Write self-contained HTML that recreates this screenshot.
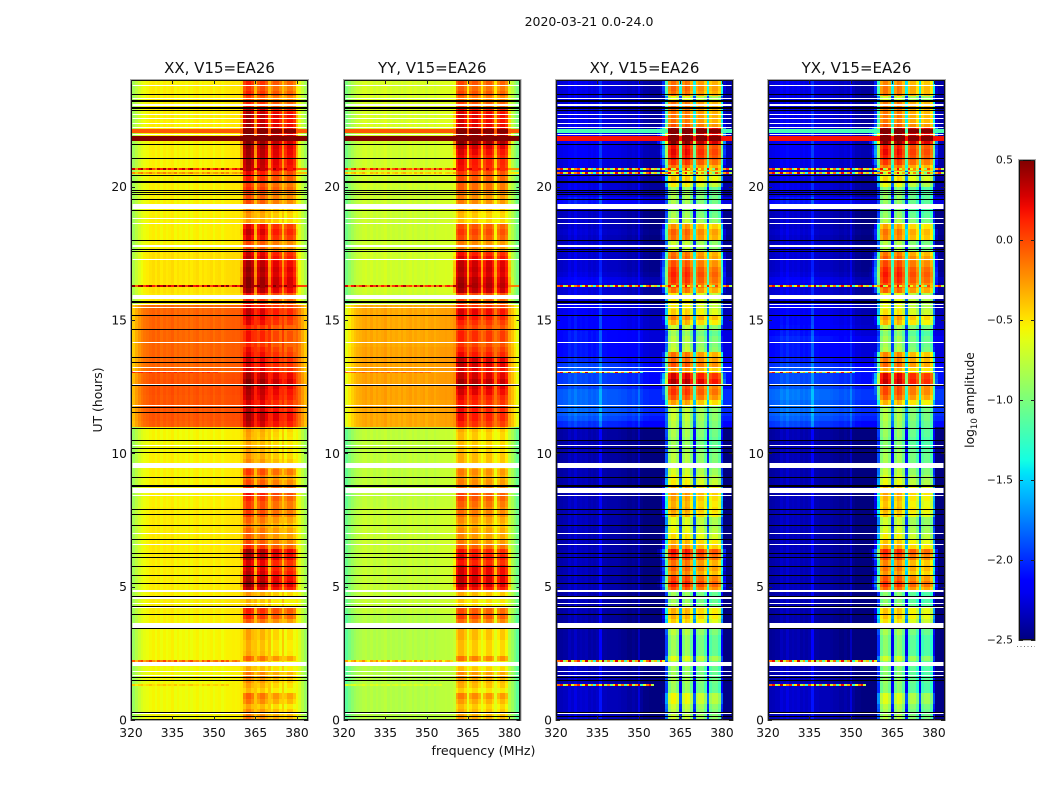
<!DOCTYPE html>
<html lang="en">
<head>
<meta charset="utf-8">
<title>2020-03-21 0.0-24.0</title>
<style>
html,body{margin:0;padding:0;background:#fff;width:1050px;height:800px;overflow:hidden}
svg{display:block}
text{font-family:"DejaVu Sans","Liberation Sans",sans-serif;fill:#111}
</style>
</head>
<body>
<svg id="chart" width="1050" height="800" viewBox="0 0 1050 800" xmlns="http://www.w3.org/2000/svg">
  <defs>
    <linearGradient id="jetGradient" x1="0" y1="1" x2="0" y2="0"></linearGradient>
  </defs>
  <rect width="1050" height="800" fill="#fff"></rect>
  <text x="589" y="26" font-size="12.5" text-anchor="middle">2020-03-21 0.0-24.0</text>
  <text x="483.5" y="755" font-size="12.6" text-anchor="middle">frequency (MHz)</text>
  <text transform="translate(102,400) rotate(-90)" font-size="12.4" text-anchor="middle">UT (hours)</text>
  <text transform="translate(974,400) rotate(-90)" font-size="12.3" text-anchor="middle">log<tspan font-size="8.5" dy="3">10</tspan><tspan dy="-3"> amplitude</tspan></text>
  <g id="panels"></g>
  <g id="colorbar"></g>
</svg>
<script>
// ---------- Axis data ----------
const panelTitles = ["XX, V15=EA26", "YY, V15=EA26", "XY, V15=EA26", "YX, V15=EA26"];
const xTicks = [320, 335, 350, 365, 380];
const yTicks = [0, 5, 10, 15, 20];
const colorbarTicks = [0.5, 0.0, -0.5, -1.0, -1.5, -2.0, -2.5];
const colorbarLabels = ["0.5", "0.0", "\u22120.5", "\u22121.0", "\u22121.5", "\u22122.0", "\u22122.5"];

// ---------- Heatmap categories: channel centres (MHz), time bins (UT start, 0.2 h wide) ----------
const channelsMHz = [320,321,322,323,324,325,326,327,328,329,330,331,332,333,334,335,336,337,338,339,
340,341,342,343,344,345,346,347,348,349,350,351,352,353,354,355,356,357,358,359,
360,361,362,363,364,365,366,367,368,369,370,371,372,373,374,375,376,377,378,379,
380,381,382,383];
const subbandOfChannel = [-1,-1,-1,-1,-1,-1,-1,-1,-1,-1,-1,-1,-1,-1,-1,-1,-1,-1,-1,-1,
-1,-1,-1,-1,-1,-1,-1,-1,-1,-1,-1,-1,-1,-1,-1,-1,-1,-1,-1,-1,
-1,0,0,0,0,-1,1,1,1,1,-1,2,2,2,2,-1,3,3,3,3,
-1,-1,-1,-1];

// ---------- Low-band (quiet channels) log10 amplitude per time bin ----------
const xxLow = [-.6,-.6,-.6,-.6,-.6,-.6,-.6,-.6,-.6,-.6,
-.59,-.59,-.59,-.59,-.59,-.59,-.59,-.59,-.57,-.57,
-.56,-.56,-.56,-.56,-.56,-.56,-.56,-.56,-.56,-.56,
-.55,-.55,-.55,-.55,-.55,-.55,-.55,-.55,-.55,-.55,
-.57,-.57,-.57,-.57,-.57,-.57,-.57,-.57,-.57,-.57,
-.59,-.59,-.59,-.59,-.59,-.09,-.07,-.07,-.07,-.07,
-.07,-.06,-.06,-.06,-.07,-.12,-.12,-.12,-.12,-.12,
-.12,-.12,-.12,-.12,-.12,-.12,-.12,-.12,-.54,-.54,
-.52,-.52,-.52,-.52,-.52,-.52,-.52,-.52,-.57,-.57,
-.57,-.57,-.57,-.57,-.57,-.57,-.57,-.57,-.57,-.57,
-.57,-.57,-.57,-.57,-.57,-.57,-.57,-.57,-.57,-.57,
-.56,-.56,-.56,-.56,-.56,-.56,-.56,-.56,-.56,-.56];
const yyLow = [-.82,-.82,-.82,-.82,-.82,-.82,-.82,-.82,-.82,-.82,
-.82,-.82,-.82,-.82,-.82,-.82,-.82,-.82,-.82,-.82,
-.76,-.76,-.76,-.76,-.76,-.76,-.76,-.76,-.76,-.76,
-.75,-.75,-.75,-.75,-.75,-.75,-.75,-.75,-.75,-.75,
-.78,-.78,-.78,-.78,-.78,-.78,-.78,-.78,-.78,-.78,
-.78,-.78,-.78,-.78,-.78,-.33,-.33,-.33,-.33,-.33,
-.31,-.31,-.31,-.31,-.31,-.31,-.31,-.31,-.31,-.31,
-.33,-.33,-.33,-.33,-.33,-.33,-.33,-.33,-.74,-.74,
-.72,-.72,-.72,-.72,-.72,-.72,-.72,-.72,-.74,-.74,
-.74,-.74,-.74,-.74,-.74,-.74,-.74,-.74,-.74,-.74,
-.72,-.72,-.72,-.72,-.72,-.72,-.72,-.72,-.72,-.72,
-.7,-.7,-.7,-.7,-.7,-.7,-.7,-.7,-.7,-.7];
const xyLow = [-2.38,-2.38,-2.38,-2.38,-2.38,-2.38,-2.38,-2.42,-2.42,-2.42,
-2.46,-2.46,-2.46,-2.46,-2.46,-2.46,-2.46,-2.46,-2.46,-2.46,
-2.44,-2.44,-2.44,-2.44,-2.42,-2.42,-2.42,-2.42,-2.42,-2.42,
-2.42,-2.42,-2.42,-2.42,-2.42,-2.42,-2.42,-2.42,-2.42,-2.42,
-2.42,-2.42,-2.44,-2.44,-2.44,-2.44,-2.44,-2.44,-2.44,-2.44,
-2.44,-2.44,-2.44,-2.44,-2.44,-2.05,-1.95,-1.9,-1.9,-1.9,
-1.9,-1.9,-2.0,-2.0,-2.0,-1.95,-2.0,-2.1,-2.15,-2.15,
-2.15,-2.15,-2.15,-2.2,-2.2,-2.2,-2.25,-2.25,-2.32,-2.32,
-2.32,-2.3,-2.25,-2.32,-2.35,-2.35,-2.35,-2.35,-2.35,-2.38,
-2.38,-2.35,-2.38,-2.38,-2.38,-2.38,-2.15,-2.15,-2.3,-2.3,
-2.3,-2.3,-2.3,-2.3,-2.3,-2.25,-2.25,-2.25,-2.25,-2.25,
-2.32,-2.3,-2.3,-2.3,-2.32,-2.32,-2.32,-2.3,-2.3,-2.3];
const yxLow = [-2.38,-2.38,-2.38,-2.38,-2.38,-2.38,-2.38,-2.42,-2.42,-2.42,
-2.46,-2.46,-2.46,-2.46,-2.46,-2.46,-2.46,-2.46,-2.46,-2.46,
-2.44,-2.44,-2.44,-2.44,-2.42,-2.42,-2.42,-2.42,-2.42,-2.42,
-2.42,-2.42,-2.42,-2.42,-2.42,-2.42,-2.42,-2.42,-2.42,-2.42,
-2.42,-2.42,-2.44,-2.44,-2.44,-2.44,-2.44,-2.44,-2.44,-2.44,
-2.44,-2.44,-2.44,-2.44,-2.44,-2.0,-1.92,-1.88,-1.88,-1.88,
-1.85,-1.85,-1.95,-1.98,-1.98,-1.95,-2.02,-2.12,-2.15,-2.15,
-2.15,-2.1,-2.15,-2.18,-2.2,-2.2,-2.25,-2.25,-2.32,-2.32,
-2.32,-2.3,-2.25,-2.32,-2.35,-2.35,-2.35,-2.35,-2.35,-2.38,
-2.38,-2.35,-2.38,-2.38,-2.38,-2.38,-2.15,-2.15,-2.3,-2.3,
-2.3,-2.3,-2.3,-2.3,-2.3,-2.25,-2.25,-2.25,-2.25,-2.25,
-2.32,-2.3,-2.3,-2.3,-2.32,-2.32,-2.32,-2.3,-2.3,-2.3];

// ---------- Active-band (360-380 MHz) log10 amplitude per time bin ----------
const xxHi = [-.15,-.2,-.3,-.15,-.08,-.35,-.28,-.2,-.15,-.32,
-.35,-.08,-.3,-.32,-.32,-.28,-.28,-.35,-.05,.12,
.15,-.35,-.35,-.25,.35,.45,.4,.35,.3,.28,
.4,.42,.12,.0,-.08,-.08,-.15,-.08,.05,.05,
.05,.12,.18,.1,.0,-.08,.05,-.08,-.2,-.25,
-.28,-.3,-.3,-.28,-.25,.35,.4,.4,.35,.28,
.35,.38,.42,.48,.42,.3,.28,.3,.25,.2,
.12,.18,.18,.12,.25,.28,.32,.25,.12,.18,
.42,.48,.48,.42,.45,.4,.35,.3,.0,.0,
.25,.32,.25,-.25,-.25,-.2,.0,.0,.0,.1,
.05,.15,.22,.38,.4,.4,.42,.45,.5,.5,
.42,.4,.38,.4,.32,.12,.0,.12,.05,.12];
const yyHi = [-.25,-.3,-.35,-.25,-.15,-.4,-.3,-.25,-.2,-.35,
-.4,-.12,-.35,-.35,-.35,-.3,-.3,-.4,-.08,.05,
.0,-.4,-.4,-.3,.25,.35,.35,.3,.3,.18,
.25,.2,-.02,-.15,-.2,-.2,-.25,-.2,-.1,-.1,
-.05,.02,.02,-.1,-.15,-.2,-.15,-.25,-.3,-.3,
-.35,-.35,-.35,-.35,-.3,.15,.22,.22,.22,.18,
.22,.3,.35,.42,.35,.28,.35,.35,.22,.15,
.08,.15,.15,.08,.15,.22,.28,.15,.02,.08,
.4,.45,.42,.35,.38,.35,.28,.2,-.15,-.15,
.02,.08,.02,-.35,-.35,-.3,-.15,-.15,-.15,-.05,
-.05,.02,.08,.2,.22,.22,.28,.35,.5,.5,
.35,.3,.28,.3,.22,.02,-.1,.02,-.05,.02];
const xyHi = [-.7,-.75,-.7,-.55,-.55,-.85,-.85,-.8,-.85,-.85,
-.8,-.6,-.85,-.85,-.85,-.85,-.75,-.7,-.4,-.3,
-.3,-.8,-.85,-.85,.0,.15,.05,-.15,-.05,-.1,
.1,.2,-.2,-.3,-.45,-.55,-.6,-.6,-.3,-.25,
-.3,-.25,-.2,-.3,-.5,-.55,-.65,-.7,-.75,-.75,
-.8,-.85,-.85,-.8,-.8,-.75,-.7,-.7,-.7,-.25,
.0,.1,.05,.4,.3,-.2,.0,-.05,-.1,-.7,
-.75,-.75,-.85,-.7,-.3,-.15,-.4,-.5,-.5,-.5,
-.1,.02,.1,.15,.1,.0,-.05,-.1,-.7,-.7,
-.1,-.05,-.2,-.7,-.8,-.85,-.8,-.8,-.8,-.85,
-.5,-.35,-.55,-.1,.1,.2,.25,.2,.5,.5,
.5,.0,-.1,-.1,-.1,-.1,-.6,-.1,-.05,-.1];
const yxHi = [-.75,-.8,-.75,-.6,-.6,-.9,-.9,-.85,-.9,-.9,
-.85,-.65,-.9,-.9,-.9,-.9,-.8,-.75,-.45,-.35,
-.35,-.85,-.9,-.9,-.05,.12,.0,-.2,-.1,-.15,
.05,.15,-.25,-.35,-.5,-.6,-.65,-.65,-.35,-.3,
-.35,-.3,-.25,-.35,-.55,-.6,-.7,-.75,-.8,-.8,
-.85,-.9,-.9,-.85,-.85,-.8,-.75,-.75,-.75,-.3,
-.05,.05,.05,.35,.3,-.25,-.05,-.1,-.15,-.75,
-.8,-.8,-.9,-.75,-.3,-.2,-.45,-.55,-.55,-.55,
-.05,.05,.15,.2,.15,.05,-.0,-.1,-.75,-.75,
-.15,-.1,-.25,-.75,-.85,-.9,-.85,-.85,-.85,-.9,
-.55,-.4,-.6,-.1,.1,.2,.25,.2,.5,.5,
.5,.0,-.1,-.1,-.1,-.1,-.65,-.1,-.1,-.15];

// ---------- Frequency response offsets per channel ----------
const parallelProfile = [-.4,-.3,-.2,-.12,-.06,-.02,.0,.03,.05,.01,
.05,.0,.04,.01,.03,.06,.0,.04,.01,.03,
.0,.04,.0,.03,.05,.0,.04,.01,.03,.05,
.0,.04,.05,.01,.04,.05,.05,.06,.05,.06,
.1,-.12,.0,.0,-.1,.2,-.1,.0,.0,-.12,
.2,-.12,.0,.0,-.12,.18,-.12,.0,.0,-.12,
.04,-.06,-.18,-.3];
const crossProfile = [.0,.02,.03,.05,.05,.12,.08,.15,.08,.1,
.08,.1,.05,.08,.05,.08,.3,.05,.05,.03,
.03,.03,.03,.02,.0,.0,-.03,-.03,.0,-.03,
.12,-.05,-.1,-.1,-.12,-.12,-.12,-.12,-.12,-.12,
-.05,-.15,.0,.0,-.15,.2,-.1,.05,.0,-.2,
.2,-.1,.0,.0,-.2,.2,-.1,.0,.0,-.15,
-.05,-.1,-.1,-.1];
const xxSubbandOffset = [.02,-.05,-.16,-.2];
const yySubbandOffset = [.0,-.05,-.08,-.1];
const xySubbandOffset = [.0,-.05,-.15,-.22];
const yxSubbandOffset = [-.02,-.06,-.2,-.25];

// ---------- Spectral leakage from the active band into neighbouring channels ----------
const leakChannels = [37,38,39,40,45,50,55,60,61];
const parallelLeak = [-1.6,-1.4,-1.15,-.75,-.65,-.65,-.65,-.75,-1.15];
const crossLeak = [-2.6,-2.3,-1.9,-1.1,-1.3,-1.3,-1.3,-1.3,-2.2];

// ---------- Flagged rows (UT hours, thickness in hours) ----------
const whiteRowsUT = [23.79,23.30,23.06,22.71,22.55,22.37,22.20,21.94,19.28,18.79,18.61,17.78,17.25,15.85,15.56,15.47,14.16,13.22,13.06,12.59,11.79,10.29,9.55,8.60,8.41,7.0,6.59,4.86,4.81,4.57,4.38,4.23,3.54,2.11,1.83,1.68,0.22];
const whiteRowsThick = [.05,.05,.09,.05,.05,.05,.05,.05,.17,.05,.05,.08,.05,.15,.05,.05,.05,.05,.05,.05,.05,.05,.19,.19,.05,.05,.05,.04,.04,.09,.05,.05,.19,.15,.05,.05,.05];
const blackRowsUT = [23.46,23.22,22.93,22.85,21.59,21.06,20.43,20.17,19.85,19.77,19.71,19.52,19.11,17.97,17.65,17.56,15.66,15.15,14.65,13.6,13.41,12.52,11.72,11.54,10.94,10.47,10.19,10.04,9.08,8.78,7.9,7.71,7.3,6.76,6.25,6.07,5.76,5.43,5.12,4.64,4.26,3.96,3.41,1.59,1.49,0.29,0.12];
const blackRowsThick = [.05,.08,.08,.05,.05,.05,.05,.08,.05,.05,.05,.05,.05,.05,.05,.05,.08,.05,.05,.05,.05,.05,.05,.05,.05,.05,.05,.05,.05,.08,.05,.05,.05,.05,.05,.05,.05,.05,.05,.05,.05,.05,.05,.05,.05,.05,.05];

// ---------- Strong interference rows ----------
const hotRowsUT = [21.81,22.09];
const hotRowsThick = [.18,.12];
const hotParallel = [.5,-.05];
const hotCross = [.18,-1.2];

// ---------- Speckled narrow rows ----------
const speckleRowsUT = [2.22,16.27,20.68,20.52,13.05,1.31];
const speckleChannelCount = [40,64,64,64,32,36];
const speckleParallelGain = [.6,1.1,1.0,.4,.25,.2];
const speckleParallel = [.6,.9,.4,.8,1,.5,.7,1,.6,.4,.9,.7,1,.5,.8,.6,1,.4,.7,.9,.5,.8,1,.6,.7,.4,.9,.6,1,.5,.7,.8,.5,1,.6,.9,.4,.7,.8,.6,1,.6,.9,.7,.4,.8,1,.5,.7,.9,.6,.4,1,.7,.8,.5,.9,.6,.7,.8,.5,.5,.5,.5];
const speckleCross = [-.6,-.1,.2,-.9,-.4,.3,-.7,-.2,.1,-1.2,-.5,.3,-.8,-.3,-1.3,.0,-.6,.35,-.9,-.2,-1.1,-.5,.25,-.7,-.1,-1.2,-.4,.2,-.9,-.3,.3,-1.3,-.6,-.1,.2,-.8,-.4,-1.1,.1,-.6,-.3,.2,-.9,-.5,.1,-1.2,-.4,.2,-.7,-.3,-1.1,.1,-.6,-.2,-.9,.2,-.5,-1.0,.0,-.4,-1.2,-.3,.1,-.8];

// ---------- Geometry (layout only) ----------
const panelLeft = [131, 344, 556, 768];
const panelRight = [308, 520.5, 733, 945];
const plotTop = 80, plotBottom = 720;
const cbLeft = 1019, cbRight = 1035, cbTop = 160, cbBottom = 640;
const rowHours = 0.2, freqMin = 320, freqMax = 384, utMax = 24, vMin = -2.5, vMax = 0.5;
const NS = "http://www.w3.org/2000/svg";

function jet(v) {
  const f = Math.max(0, Math.min(1, (v - vMin) / (vMax - vMin)));
  const seg = (pts) => {
    for (let i = 1; i < pts.length; i++) {
      if (f <= pts[i][0]) {
        const a = pts[i - 1], b = pts[i];
        return a[1] + (b[1] - a[1]) * (f - a[0]) / (b[0] - a[0]);
      }
    }
    return pts[pts.length - 1][1];
  };
  const r = seg([[0, 0], [.35, 0], [.66, 1], [.89, 1], [1, .5]]);
  const g = seg([[0, 0], [.125, 0], [.375, 1], [.64, 1], [.91, 0], [1, 0]]);
  const b = seg([[0, .5], [.11, 1], [.34, 1], [.65, 0], [1, 0]]);
  return "rgb(" + Math.round(r * 255) + "," + Math.round(g * 255) + "," + Math.round(b * 255) + ")";
}
function make(tag, attrs) {
  const el = document.createElementNS(NS, tag);
  for (const k in attrs) el.setAttribute(k, attrs[k]);
  return el;
}
const yScale = (ut) => plotBottom - (ut / utMax) * (plotBottom - plotTop);

const panelLow = [xxLow, yyLow, xyLow, yxLow];
const panelHi = [xxHi, yyHi, xyHi, yxHi];
const panelSub = [xxSubbandOffset, yySubbandOffset, xySubbandOffset, yxSubbandOffset];

function cellValue(p, row, ch) {
  const cross = p >= 2;
  const profile = cross ? crossProfile : parallelProfile;
  const low = panelLow[p][row], hi = panelHi[p][row];
  const band = subbandOfChannel[ch];
  if (band >= 0) return Math.max(hi + panelSub[p][band] + profile[ch], cross ? -1.35 : low);
  let v = low + profile[ch];
  const li = leakChannels.indexOf(ch);
  if (li >= 0) v = Math.max(v, hi + (cross ? crossLeak[li] : parallelLeak[li]));
  return v;
}

const panelsRoot = document.getElementById("panels");
panelTitles.forEach((title, p) => {
  const x0 = panelLeft[p], x1 = panelRight[p];
  const xScale = (f) => x0 + (f - freqMin) / (freqMax - freqMin) * (x1 - x0);
  const g = make("g", {});
  
  

  const bg = make("rect", { x: x0, y: plotTop, width: x1 - x0, height: plotBottom - plotTop, fill: "#000" });
  
  
  g.appendChild(bg);

  const left = xScale(320.5), right = xScale(383.5);
  const heat = make("g", { "shape-rendering": "crispEdges" });
  
  
  const frag = document.createDocumentFragment();
  const nRows = panelLow[p].length;
  for (let r = 0; r < nRows; r++) {
    const yb = Math.round(yScale(r * rowHours)), yt = Math.round(yScale((r + 1) * rowHours));
    for (let c = 0; c < channelsMHz.length; c++) {
      const xa = Math.round(Math.max(xScale(channelsMHz[c] - 0.5), left));
      const xb = Math.round(Math.min(xScale(channelsMHz[c] + 0.5), right));
      const cell = make("rect", { x: xa, y: yt, width: xb - xa, height: yb - yt, fill: jet(cellValue(p, r, c)) });
      
      
      frag.appendChild(cell);
    }
  }
  // strong interference rows
  hotRowsUT.forEach((ut, i) => {
    const ya = Math.round(yScale(ut + hotRowsThick[i] / 2)), yb = Math.round(yScale(ut - hotRowsThick[i] / 2));
    for (let c = 0; c < channelsMHz.length; c++) {
      const xa = Math.round(Math.max(xScale(channelsMHz[c] - 0.5), left));
      const xb = Math.round(Math.min(xScale(channelsMHz[c] + 0.5), right));
      const base = p >= 2 ? hotCross[i] : hotParallel[i];
      const v = subbandOfChannel[c] >= 0 ? 0.5 : base;
      const cell = make("rect", { x: xa, y: ya, width: xb - xa, height: Math.max(1, yb - ya), fill: jet(v) });
      
      
      frag.appendChild(cell);
    }
  });
  // speckled rows
  speckleRowsUT.forEach((ut, i) => {
    const ya = Math.round(yScale(ut + 0.03));
    const row = Math.floor(ut / rowHours);
    for (let c = 0; c < speckleChannelCount[i]; c++) {
      const xa = Math.round(Math.max(xScale(channelsMHz[c] - 0.5), left));
      const xb = Math.round(Math.min(xScale(channelsMHz[c] + 0.5), right));
      const v = p >= 2 ? speckleCross[c] : Math.max(cellValue(p, row, c), panelLow[p][row] + speckleParallelGain[i] * speckleParallel[c]);
      const cell = make("rect", { x: xa, y: ya, width: xb - xa, height: 2, fill: jet(v) });
      
      
      frag.appendChild(cell);
    }
  });
  // black flagged rows
  blackRowsUT.forEach((ut, i) => {
    const ya = Math.round(yScale(ut + blackRowsThick[i] / 2));
    const h = Math.max(1, Math.round(blackRowsThick[i] * (plotBottom - plotTop) / utMax));
    const line = make("rect", { x: x0, y: ya, width: x1 - x0, height: h, fill: "#000" });
    
    
    frag.appendChild(line);
  });
  // white blank rows
  whiteRowsUT.forEach((ut, i) => {
    const ya = Math.round(yScale(ut + whiteRowsThick[i] / 2));
    const h = Math.max(1, Math.round(whiteRowsThick[i] * (plotBottom - plotTop) / utMax));
    const line = make("rect", { x: left, y: ya, width: right - left, height: h, fill: "#fff" });
    
    
    frag.appendChild(line);
  });
  heat.appendChild(frag);
  g.appendChild(heat);

  const outer = make("rect", { x: x0 - 0.5, y: plotTop - 0.5, width: x1 - x0 + 1, height: plotBottom - plotTop + 1, fill: "none", stroke: "#aaa", "stroke-width": 1 });
  
  
  g.appendChild(outer);
  const frame = make("rect", { x: x0 + 0.5, y: plotTop + 0.5, width: x1 - x0 - 1, height: plotBottom - plotTop - 1, fill: "none", stroke: "#111", "stroke-width": 1 });
  
  
  g.appendChild(frame);

  xTicks.forEach((tv) => {
    const tx = Math.round(xScale(tv)) + 0.5;
    [[plotTop, plotTop + 4], [plotBottom, plotBottom - 4]].forEach((pair) => {
      const t = make("line", { x1: tx, x2: tx, y1: pair[0], y2: pair[1], stroke: "#222", "stroke-width": 1 });
      
      
      g.appendChild(t);
    });
    const lab = make("text", { x: xScale(tv), y: 737, "font-size": 12.3, "text-anchor": "middle" });
    
    
    lab.textContent = String(tv);
    g.appendChild(lab);
  });
  yTicks.forEach((tv) => {
    const ty = Math.round(yScale(tv)) + 0.5;
    [[x0, x0 + 4], [x1, x1 - 4]].forEach((pair) => {
      const t = make("line", { x1: pair[0], x2: pair[1], y1: ty, y2: ty, stroke: "#222", "stroke-width": 1 });
      
      
      g.appendChild(t);
    });
    const lab = make("text", { x: x0 - 4, y: yScale(tv) + 4.5, "font-size": 12.3, "text-anchor": "end" });
    
    
    lab.textContent = String(tv);
    g.appendChild(lab);
  });
  const ttl = make("text", { x: (x0 + x1) / 2, y: 73, "font-size": 15, "text-anchor": "middle" });
  
  
  ttl.textContent = title;
  g.appendChild(ttl);
  panelsRoot.appendChild(g);
});

// ---------- Colorbar ----------
const grad = document.getElementById("jetGradient");
for (let i = 0; i <= 40; i++) {
  const stop = make("stop", { offset: (i / 40 * 100) + "%", "stop-color": jet(vMin + (vMax - vMin) * i / 40) });
  grad.appendChild(stop);
}
const cbRoot = document.getElementById("colorbar");
const cbScale = (v) => cbBottom - (v - vMin) / (vMax - vMin) * (cbBottom - cbTop);
const cbBar = make("rect", { x: cbLeft, y: cbTop, width: cbRight - cbLeft, height: cbBottom - cbTop, fill: "url(#jetGradient)" });


cbRoot.appendChild(cbBar);
const cbHalo = make("rect", { x: cbLeft - 0.5, y: cbTop - 0.5, width: cbRight - cbLeft + 1, height: cbBottom - cbTop + 1, fill: "none", stroke: "#aaa", "stroke-width": 1 });


cbRoot.appendChild(cbHalo);
const cbFrame = make("rect", { x: cbLeft + 0.5, y: cbTop + 0.5, width: cbRight - cbLeft - 1, height: cbBottom - cbTop - 1, fill: "none", stroke: "#111", "stroke-width": 1 });


cbRoot.appendChild(cbFrame);
colorbarTicks.forEach((tv, i) => {
  const ty = Math.round(cbScale(tv)) + 0.5;
  [[cbLeft, cbLeft + 4], [cbRight, cbRight - 4]].forEach((pair) => {
    const t = make("line", { x1: pair[0], x2: pair[1], y1: ty, y2: ty, stroke: "#222", "stroke-width": 1 });
    
    
    cbRoot.appendChild(t);
  });
  const lab = make("text", { x: 1013, y: cbScale(tv) + 3.5, "font-size": 10.8, "text-anchor": "end" });
  
  
  lab.textContent = colorbarLabels[i];
  cbRoot.appendChild(lab);
});
const cbDots = make("line", { x1: 1017, x2: 1035, y1: 646.5, y2: 646.5, stroke: "#777", "stroke-width": 1, "stroke-dasharray": "1 2.5" });


cbRoot.appendChild(cbDots);
</script>
</body>
</html>
